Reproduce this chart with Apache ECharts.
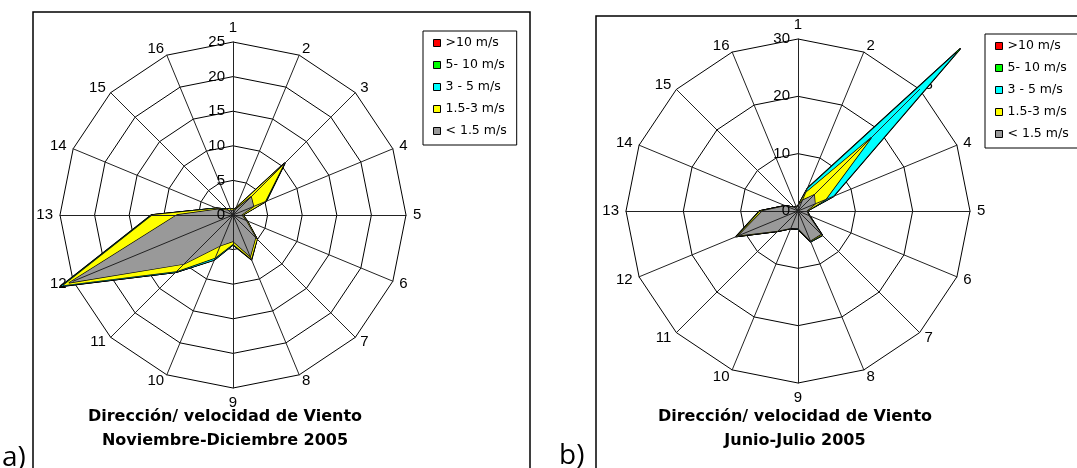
<!DOCTYPE html>
<html>
<head>
<meta charset="utf-8">
<script src="https://cdn.jsdelivr.net/npm/echarts@6/dist/echarts.min.js"></script>
<style>
  html, body { margin: 0; padding: 0; background: #fff; }
  #chart { width: 1077px; height: 468px; }
</style>
</head>
<body>
<div id="chart"></div>
<script>
// Wind directions 1..16, clockwise from north
const directions = ['1','2','3','4','5','6','7','8','9','10','11','12','13','14','15','16'];
const speedClasses = ['>10 m/s', '5- 10 m/s', '3 - 5 m/s', '1.5-3 m/s', '< 1.5 m/s'];
const classColors = ['#ff0000', '#00ff00', '#00ffff', '#ffff00', '#999999'];

// Cumulative frequency (%) per direction — Noviembre-Diciembre 2005
const novDicGt10  = [0.8, 1.0, 10.6, 5.2, 1.4, 2.2, 4.9, 7.0, 4.3, 7.0, 11.7, 27.0, 11.8, 2.6, 1.2, 1.0];
const novDic5to10 = [0.8, 1.0, 10.6, 5.2, 1.4, 2.2, 4.9, 7.0, 4.3, 7.0, 11.7, 26.9, 11.8, 2.6, 1.2, 1.0];
const novDic3to5  = [0.8, 1.0, 10.5, 5.1, 1.4, 2.2, 4.9, 6.9, 4.3, 7.0, 11.7, 26.8, 11.7, 2.6, 1.2, 1.0];
const novDic15to3 = [0.8, 1.0, 10.4, 5.0, 1.4, 2.2, 4.9, 6.9, 4.2, 6.7, 11.5, 26.5, 11.6, 2.5, 1.1, 1.0];
const novDicLt15  = [0.6, 0.8, 3.7, 3.2, 1.2, 2.0, 4.6, 6.5, 3.8, 4.8, 10.0, 25.6, 8.1, 2.2, 0.9, 0.7];

// Cumulative frequency (%) per direction — Junio-Julio 2005
const junJulGt10  = [0.9, 4.3, 40.0, 6.7, 1.6, 2.2, 6.0, 5.8, 3.2, 3.3, 5.0, 11.7, 6.7, 2.4, 0.9, 0.8];
const junJul5to10 = [0.9, 4.3, 40.0, 6.7, 1.6, 2.2, 6.0, 5.8, 3.2, 3.3, 5.0, 11.7, 6.7, 2.4, 0.9, 0.8];
const junJul3to5  = [0.9, 4.1, 39.0, 6.6, 1.6, 2.2, 6.0, 5.8, 3.2, 3.3, 5.0, 11.6, 6.7, 2.4, 0.9, 0.8];
const junJul15to3 = [0.9, 3.4, 18.0, 5.2, 1.6, 2.1, 5.9, 5.7, 3.1, 3.3, 5.0, 11.5, 6.6, 2.4, 0.9, 0.8];
const junJulLt15  = [0.8, 2.0, 4.0, 3.2, 1.5, 2.0, 5.7, 5.6, 3.0, 3.2, 4.9, 11.2, 6.2, 2.3, 0.8, 0.7];

const panelA = { max: 25, step: 5, series: [novDicGt10, novDic5to10, novDic3to5, novDic15to3, novDicLt15] };
const panelB = { max: 30, step: 10, series: [junJulGt10, junJul5to10, junJul3to5, junJul15to3, junJulLt15] };

// ECharts radar runs counter-clockwise; reorder so direction 1 is on top and the rest go clockwise
function clockwise(arr) { return [arr[0]].concat(arr.slice(1).reverse()); }

const txtFont = 'Liberation Sans';

function radarBase(center, radius, max, step) {
  return {
    center: center, radius: radius, startAngle: 90, shape: 'polygon',
    splitNumber: max / step,
    indicator: clockwise(directions).map(n => ({ name: n, min: 0, max: max }))
  };
}

function gridRadar(center, radius, max, step) {
  return Object.assign(radarBase(center, radius, max, step), {
    z: 0,
    nameGap: 7,
    axisName: { color: '#000', fontSize: 15, fontFamily: txtFont },
    splitLine: { show: true, lineStyle: { color: '#000', width: 1 } },
    splitArea: { show: false },
    axisLine: { show: false },
    axisTick: { show: false },
    axisLabel: { show: false }
  });
}

// spokes drawn above the filled areas
function spokeRadar(center, radius, max, step) {
  return Object.assign(radarBase(center, radius, max, step), {
    z: 5,
    axisName: { show: false },
    splitLine: { show: false },
    splitArea: { show: false },
    axisLine: { show: true, lineStyle: { color: '#222', width: 1 } },
    axisTick: { show: false },
    axisLabel: { show: false }
  });
}

function panelSeries(panel, radarIndex) {
  return panel.series.map((vals, i) => ({
    type: 'radar',
    radarIndex: radarIndex,
    name: speedClasses[i],
    z: 2 + i * 0.01,
    symbol: 'none',
    silent: true,
    color: classColors[i],
    itemStyle: { color: classColors[i] },
    lineStyle: { color: '#000', width: 1.4 },
    areaStyle: { color: classColors[i], opacity: 1 },
    data: [{ name: speedClasses[i], value: clockwise(vals) }]
  }));
}

function legendFor(left, top) {
  return {
    orient: 'vertical', left: left, top: top,
    padding: [5, 10, 7, 10],
    itemWidth: 7, itemHeight: 7, itemGap: 8,
    icon: 'rect',
    borderColor: '#000', borderWidth: 1, backgroundColor: '#fff',
    textStyle: { fontFamily: 'DejaVu Sans', fontSize: 12.5, color: '#000', lineHeight: 14 },
    selectedMode: false,
    data: speedClasses.map((n, i) => ({
      name: n, icon: 'rect',
      itemStyle: { color: classColors[i], borderColor: '#000', borderWidth: 1 }
    }))
  };
}

function tickAxis(idx, max, step) {
  return {
    polarIndex: idx, type: 'value', min: 0, max: max, interval: step,
    axisLine: { show: false }, axisTick: { show: false }, splitLine: { show: false },
    axisLabel: { show: true, color: '#000', fontSize: 15, fontFamily: txtFont, margin: 8 },
    z: 6
  };
}

const centerA = [233, 215], radiusA = 173;
const centerB = [798, 211], radiusB = 172;

const titleFont = 'bold 16px "DejaVu Sans"';

const option = {
  animation: false,
  backgroundColor: '#fff',
  radar: [
    gridRadar(centerA, radiusA, panelA.max, panelA.step),
    spokeRadar(centerA, radiusA, panelA.max, panelA.step),
    gridRadar(centerB, radiusB, panelB.max, panelB.step),
    spokeRadar(centerB, radiusB, panelB.max, panelB.step)
  ],
  polar: [
    { center: centerA, radius: radiusA },
    { center: centerB, radius: radiusB }
  ],
  angleAxis: [
    { polarIndex: 0, type: 'value', show: false, startAngle: 90 },
    { polarIndex: 1, type: 'value', show: false, startAngle: 90 }
  ],
  radiusAxis: [
    tickAxis(0, panelA.max, panelA.step),
    tickAxis(1, panelB.max, panelB.step)
  ],
  legend: [legendFor(423, 31), legendFor(985, 34)],
  series: panelSeries(panelA, 0).concat(panelSeries(panelB, 2)),
  graphic: [
    { type: 'rect', shape: { x: 33, y: 12, width: 497, height: 480 },
      style: { fill: 'none', stroke: '#000', lineWidth: 1.5 }, z: 0 },
    { type: 'rect', shape: { x: 596, y: 16, width: 520, height: 480 },
      style: { fill: 'none', stroke: '#000', lineWidth: 1.5 }, z: 0 },
    { type: 'text', x: 2, y: 458, style: { text: 'a)', font: '28px "Open Sans"', fill: '#000', textVerticalAlign: 'middle' } },
    { type: 'text', x: 559, y: 456, style: { text: 'b)', font: '28px "Open Sans"', fill: '#000', textVerticalAlign: 'middle' } },
    { type: 'text', x: 225, y: 417, style: { text: 'Dirección/ velocidad de Viento', font: titleFont, fill: '#000', textAlign: 'center', textVerticalAlign: 'middle' } },
    { type: 'text', x: 225, y: 441, style: { text: 'Noviembre-Diciembre 2005', font: titleFont, fill: '#000', textAlign: 'center', textVerticalAlign: 'middle' } },
    { type: 'text', x: 795, y: 417, style: { text: 'Dirección/ velocidad de Viento', font: titleFont, fill: '#000', textAlign: 'center', textVerticalAlign: 'middle' } },
    { type: 'text', x: 795, y: 441, style: { text: 'Junio-Julio 2005', font: titleFont, fill: '#000', textAlign: 'center', textVerticalAlign: 'middle' } }
  ]
};

const chart = echarts.init(document.getElementById('chart'), null, { renderer: 'canvas' });
chart.setOption(option);
</script>
</body>
</html>
